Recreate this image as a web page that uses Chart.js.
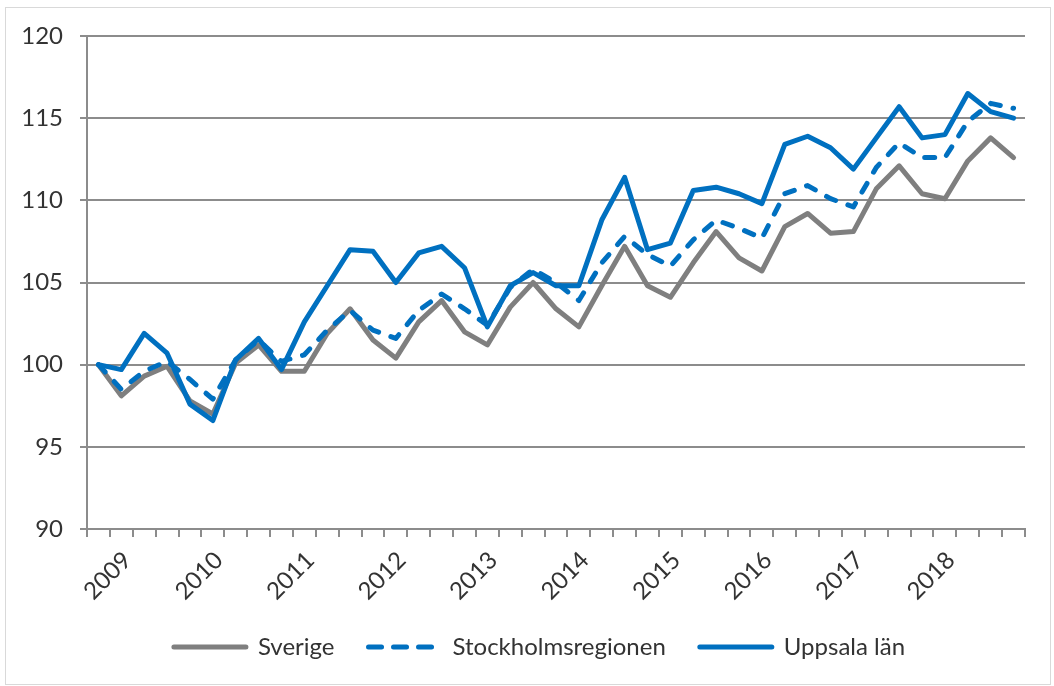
<!DOCTYPE html>
<html>
<head>
<meta charset="utf-8">
<script src="https://cdn.jsdelivr.net/npm/chart.js"></script>
<style>
  body { margin: 0; background: #fff; }
  #wrap { position: relative; width: 1054px; height: 686px; }
  #frame { position: absolute; left: 5px; top: 7px; width: 1044px; height: 676px; border: 1px solid #d9d9d9; pointer-events: none; }
  canvas { position: absolute; left: 0; top: 0; }
</style>
</head>
<body>
<div id="wrap">
  <canvas id="myChart" width="1054" height="686"></canvas>
  <div id="frame"></div>
</div>
<script>
// quarters 2008K4 .. 2018K4
const quarters = [
  '2008K4',
  '2009K1', '2009K2', '2009K3', '2009K4',
  '2010K1', '2010K2', '2010K3', '2010K4',
  '2011K1', '2011K2', '2011K3', '2011K4',
  '2012K1', '2012K2', '2012K3', '2012K4',
  '2013K1', '2013K2', '2013K3', '2013K4',
  '2014K1', '2014K2', '2014K3', '2014K4',
  '2015K1', '2015K2', '2015K3', '2015K4',
  '2016K1', '2016K2', '2016K3', '2016K4',
  '2017K1', '2017K2', '2017K3', '2017K4',
  '2018K1', '2018K2', '2018K3', '2018K4'
];

// only the first quarter of each year gets a label
const tickLabels = [
  '',
  '2009', '', '', '',
  '2010', '', '', '',
  '2011', '', '', '',
  '2012', '', '', '',
  '2013', '', '', '',
  '2014', '', '', '',
  '2015', '', '', '',
  '2016', '', '', '',
  '2017', '', '', '',
  '2018', '', '', ''
];

const sverige = [
  100,
  98.1, 99.3, 99.9, 97.8,
  97.0, 100.1, 101.2, 99.6,
  99.6, 101.9, 103.4, 101.5,
  100.4, 102.6, 103.9, 102.0,
  101.2, 103.5, 105.0, 103.4,
  102.3, 104.8, 107.2, 104.8,
  104.1, 106.2, 108.1, 106.5,
  105.7, 108.4, 109.2, 108.0,
  108.1, 110.7, 112.1, 110.4,
  110.1, 112.4, 113.8, 112.6
];

const stockholm = [
  100,
  98.5, 99.6, 100.2, 99.1,
  97.9, 100.3, 101.5, 100.2,
  100.6, 102.1, 103.3, 102.1,
  101.6, 103.3, 104.3, 103.4,
  102.4, 104.7, 105.8, 105.0,
  103.9, 106.2, 107.8, 106.7,
  106.0, 107.6, 108.8, 108.3,
  107.7, 110.4, 110.9, 110.1,
  109.6, 112.0, 113.5, 112.6,
  112.6, 114.8, 115.9, 115.6
];

const uppsala = [
  100,
  99.7, 101.9, 100.7, 97.6,
  96.6, 100.3, 101.6, 99.7,
  102.6, 104.8, 107.0, 106.9,
  105.0, 106.8, 107.2, 105.9,
  102.3, 104.8, 105.6, 104.8,
  104.8, 108.8, 111.4, 107.0,
  107.4, 110.6, 110.8, 110.4,
  109.8, 113.4, 113.9, 113.2,
  111.9, 113.8, 115.7, 113.8,
  114.0, 116.5, 115.4, 115.0
];

const gray = '#7f7f7f';
const blue = '#0070c0';
const axisGray = '#8c8c8c';
const textColor = '#333333';

Chart.defaults.font.family = 'Lato, "Open Sans", sans-serif';
Chart.defaults.font.size = 24;
Chart.defaults.color = textColor;

// the legend sits a bit right of the canvas centre in the original
const legendShift = {
  id: 'legendShift',
  afterLayout(chart) {
    chart.legend.left += 27;
    chart.legend.right += 27;
  }
};

const ctx = document.getElementById('myChart').getContext('2d');

const myChart = new Chart(ctx, {
  type: 'line',
  data: {
    labels: quarters,
    datasets: [
      {
        label: 'Sverige',
        data: sverige,
        borderColor: gray,
        backgroundColor: gray,
        borderWidth: 5,
        borderJoinStyle: 'round',
        borderCapStyle: 'round',
        pointRadius: 0,
        tension: 0,
        order: 3
      },
      {
        label: 'Stockholmsregionen',
        data: stockholm,
        borderColor: blue,
        backgroundColor: blue,
        borderWidth: 5,
        borderDash: [10, 13],
        borderJoinStyle: 'round',
        borderCapStyle: 'round',
        pointRadius: 0,
        tension: 0,
        order: 2
      },
      {
        label: 'Uppsala län',
        data: uppsala,
        borderColor: blue,
        backgroundColor: blue,
        borderWidth: 5,
        borderJoinStyle: 'round',
        borderCapStyle: 'round',
        pointRadius: 0,
        tension: 0,
        order: 1
      }
    ]
  },
  options: {
    responsive: false,
    animation: false,
    layout: {
      padding: { top: 36, right: 29, bottom: 17, left: 0 }
    },
    plugins: {
      tooltip: { enabled: false },
      legend: {
        position: 'bottom',
        labels: {
          usePointStyle: true,
          pointStyle: 'line',
          pointStyleWidth: 72,
          padding: 34,
          color: textColor,
          font: { size: 24 },
          sort: (a, b) => a.datasetIndex - b.datasetIndex,
          generateLabels: function(chart) {
            const items = Chart.defaults.plugins.legend.labels.generateLabels(chart);
            items.forEach(item => {
              const ds = chart.data.datasets[item.datasetIndex];
              item.lineWidth = ds.borderWidth;
              item.lineDash = ds.borderDash ? [13, 12] : [];
              item.lineCap = 'round';
              item.strokeStyle = ds.borderColor;
            });
            return items;
          }
        }
      }
    },
    scales: {
      x: {
        offset: true,
        grid: {
          offset: true,
          drawOnChartArea: false,
          drawTicks: true,
          tickLength: 8,
          color: axisGray,
          lineWidth: 2
        },
        border: { color: axisGray, width: 2 },
        ticks: {
          autoSkip: false,
          maxRotation: 45,
          minRotation: 45,
          padding: 9,
          labelOffset: 6,
          callback: function(value, index) {
            return tickLabels[index];
          }
        },
        afterFit: function(scale) {
          scale.height = 72;
        }
      },
      y: {
        min: 90,
        max: 120,
        grid: {
          color: axisGray,
          lineWidth: 2,
          tickLength: 7
        },
        border: { color: axisGray, width: 2 },
        ticks: {
          stepSize: 5,
          padding: 17
        },
        afterFit: function(scale) {
          scale.width = 87;
        }
      }
    }
  },
  plugins: [legendShift]
});
</script>
</body>
</html>
